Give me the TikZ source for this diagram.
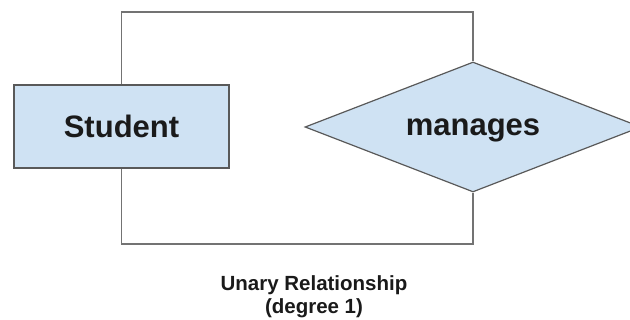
\documentclass[tikz,border=0pt]{standalone}
\usepackage{fontspec}
\setmainfont{Liberation Sans}
\usetikzlibrary{shapes.geometric}
\definecolor{boxfill}{HTML}{CFE2F3}
\definecolor{edgegray}{HTML}{595959}
\definecolor{linkgray}{HTML}{737373}
\definecolor{inkdark}{HTML}{1A1A1A}
\begin{document}
\begin{tikzpicture}[x=1pt,y=-1pt,
  entity/.style={draw=edgegray,line width=1.2pt,fill=boxfill,inner sep=0pt,
    minimum width=215pt,minimum height=83pt,text depth=0pt,
    font=\fontsize{31}{36}\selectfont\bfseries,text=inkdark},
  relation/.style={diamond,aspect=2.58,draw=edgegray,line width=1.2pt,fill=boxfill,inner sep=0pt,
    minimum width=336pt,minimum height=130pt,text depth=0pt,
    font=\fontsize{31}{36}\selectfont\bfseries,text=inkdark},
  link/.style={draw=linkgray,line width=1.4pt},
  caption/.style={font=\fontsize{20.5}{24}\selectfont\bfseries,text=inkdark,anchor=base,inner sep=0pt}]
  \useasboundingbox (0,0) rectangle (630,320);
  \coordinate (toprail) at (0,12);
  \coordinate (botrail) at (0,244);
  \node[entity] (student) at (121.5,126.5) {Student};
  \node[relation] (manages) at (473,127) {manages};
  % recursive relationship: both links leave Student and meet the diamond
  \draw[link] (student.north) -- (student.north |- toprail) -| (manages.north);
  \draw[link] (student.south) -- (student.south |- botrail) -| (manages.south);
  \node[caption] (cap1) at (314,291) {Unary Relationship};
  \node[caption] (cap2) at (314,314) {(degree 1)};
\end{tikzpicture}
\end{document}
